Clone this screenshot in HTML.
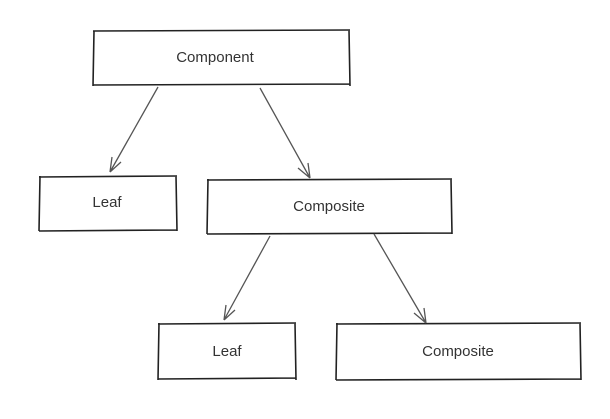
<!DOCTYPE html>
<html><head><meta charset="utf-8"><style>
html,body{margin:0;padding:0;background:#fff;}
svg{display:block;}
text{font-family:"Liberation Sans",sans-serif;font-size:15px;fill:#333;}
</style></head><body>
<svg width="610" height="419" viewBox="0 0 610 419" xmlns="http://www.w3.org/2000/svg">
<g fill="none" stroke="#222" stroke-width="1.6">
<path d="M93 31 L350 30 M94 31 L93 86 M93 85 L350 84 M349 30 L350 86"/>
<path d="M39 177 L177 176 M40 176 L39 231 M39 231 L177 230 M176 176 L177 231"/>
<path d="M207 180 L452 179 M208 179 L207 234 M207 234 L452 233 M451 179 L452 234"/>
<path d="M158 324 L296 323 M159 323 L158 380 M158 379 L296 378 M295 323 L296 380"/>
<path d="M336 324 L581 323 M337 323 L336 380 M336 380 L581 379 M580 323 L581 380"/>
</g>
<g fill="none" stroke="#555" stroke-width="1.3">
<path d="M158 87 L110 172 M110 172 L112 157 M110 172 L121 162"/>
<path d="M260 88 L310 178 M310 178 L298 168 M310 178 L308 163"/>
<path d="M270 236 L224 320 M224 320 L226 305 M224 320 L235 310"/>
<path d="M374 234 L426 323 M426 323 L414 313 M426 323 L424 308"/>
</g>
<text x="215" y="62" text-anchor="middle">Component</text>
<text x="107" y="207" text-anchor="middle">Leaf</text>
<text x="329" y="211" text-anchor="middle">Composite</text>
<text x="227" y="356" text-anchor="middle">Leaf</text>
<text x="458" y="356" text-anchor="middle">Composite</text>
</svg>
</body></html>
